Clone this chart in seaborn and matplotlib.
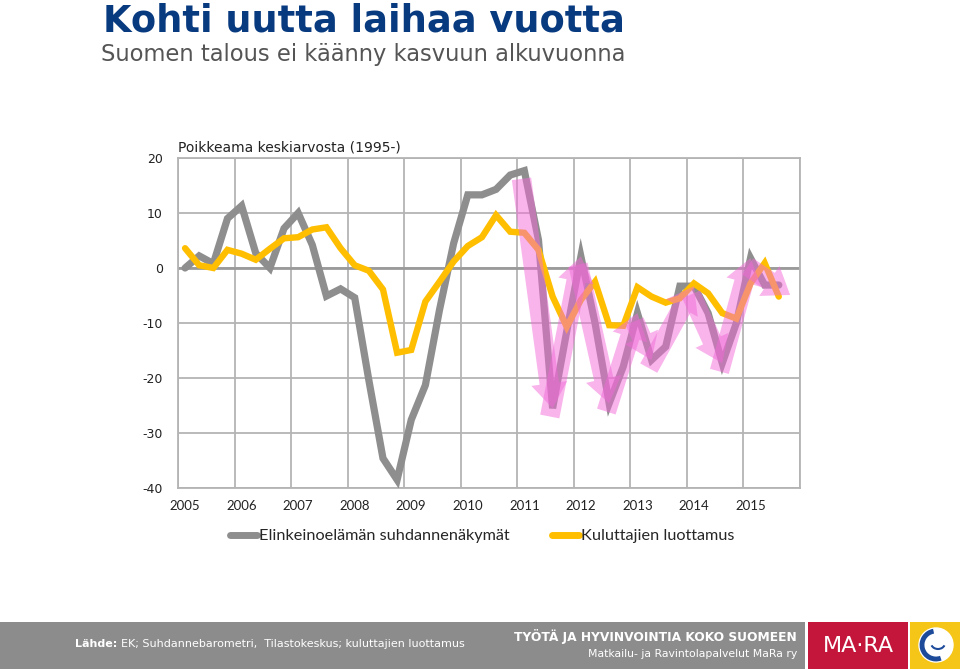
import numpy as np
import pandas as pd
import seaborn as sns
import matplotlib.pyplot as plt
from matplotlib.lines import Line2D
from matplotlib.patches import Rectangle, Circle, Arc

# ---------------------------------------------------- data ----------------------------------------------------
years = list(range(2005, 2016))
quarters = [f"{y}Q{q}" for y in years for q in range(1, 5)][:43]   # 2005Q1 .. 2015Q3

# Elinkeinoelämän suhdannenäkymät (grey)
business = [0.0, 2.2, 0.8, 9.0,
            11.3, 2.7, 0.0, 7.2,
            10.0, 4.2, -5.1, -3.8,
            -5.4, -20.4, -34.6, -38.5,
            -27.6, -21.3, -7.6, 4.5,
            13.3, 13.3, 14.3, 16.9,
            17.7, 5.1, -25.5, -11.5,
            2.1, -10.0, -24.6, -17.9,
            -8.2, -16.7, -14.3, -3.3,
            -3.3, -8.2, -17.3, -10.0,
            1.8, -3.1, -3.1]

# Kuluttajien luottamus (yellow)
consumer = [3.6, 0.5, 0.0, 3.3,
            2.6, 1.5, 3.5, 5.4,
            5.6, 7.0, 7.4, 3.6,
            0.5, -0.5, -3.9, -15.4,
            -14.9, -6.1, -2.5, 1.2,
            4.0, 5.6, 9.6, 6.6,
            6.4, 3.3, -5.2, -10.7,
            -5.8, -2.5, -10.4, -10.5,
            -3.5, -5.2, -6.3, -5.5,
            -2.8, -4.6, -8.2, -9.2,
            -2.8, 0.9, -5.2]

series_names = ["Elinkeinoelämän suhdannenäkymät", "Kuluttajien luottamus"]
colors = ["#8e8e8e", "#ffbf00"]
arrow_from = "2011Q1"   # pink highlight arrows follow the grey line from here on

# quarter -> decimal year (mid-quarter)
x_pos = [int(q[:4]) + (int(q[-1]) - 0.5) / 4 for q in quarters]
df = pd.DataFrame({"x": x_pos * 2,
                   "value": business + consumer,
                   "series": [series_names[0]] * len(business) + [series_names[1]] * len(consumer)})

# ---------------------------------------------------- plot ----------------------------------------------------
sns.set_style("white")
plt.rcParams['font.family'] = ['DejaVu Sans']

fig = plt.figure(figsize=(9.6, 6.69), dpi=100)
ax = fig.add_axes([178 / 960, 1 - 488 / 669, 622 / 960, 330 / 669])

for name, col, lw in zip(series_names, colors, [5.2, 4.6]):
    sns.lineplot(data=df[df.series == name], x="x", y="value", color=col, linewidth=lw,
                 ax=ax, legend=False, solid_joinstyle="miter", zorder=3)

# pink arrows along the grey line, between its turning points
start = quarters.index(arrow_from)
xs = np.array(x_pos[start:])
ys = np.array(business[start:])
d = np.sign(np.diff(ys))
for i in range(1, len(d)):
    if d[i] == 0:
        d[i] = d[i - 1]
turns = [0] + [i for i in range(1, len(d)) if d[i] != d[i - 1]] + [len(ys) - 1]
for a, b in zip(turns[:-1], turns[1:]):
    x0, y0, x1, y1 = xs[a], ys[a], xs[b], ys[b]
    if b == len(ys) - 1:
        x1, y1 = x1 + 0.2, y1 - 1.8
    ax.annotate("", xy=(x1, y1), xytext=(x0 - 0.05, y0 - 1.5),
                arrowprops=dict(arrowstyle="simple,head_width=2.6,head_length=1.8,tail_width=1.4",
                                mutation_scale=10, color="#f26ad8", alpha=0.5, lw=0, shrinkA=0, shrinkB=0),
                zorder=5)

ax.set_xlim(2005, 2016)
ax.set_ylim(-40, 20)
# gridlines on the years, labels a bit to the right of them
ax.set_xticks(years + [2016])
ax.set_xticklabels([])
ax.set_xticks([y + 0.125 for y in years], minor=True)
ax.set_xticklabels([str(y) for y in years], minor=True, fontsize=9.5, family="Lato")
ax.set_yticks(range(-40, 21, 10))
ax.set_yticklabels([str(v) for v in range(-40, 21, 10)], fontsize=9)
ax.tick_params(axis="both", which="both", length=0, pad=9, colors="#222222")
ax.tick_params(axis="y", pad=11)
ax.grid(True, which="major", color="#b4b4b4", linewidth=1.3)
ax.axhline(0, color="#9a9a9a", linewidth=2.0, zorder=2)
for s in ax.spines.values():
    s.set_color("#b4b4b4")
    s.set_linewidth(1.3)
ax.set_xlabel("")
ax.set_ylabel("")
ax.text(0, 1.012, "Poikkeama keskiarvosta (1995-)", transform=ax.transAxes, fontsize=10,
        color="#222222", va="bottom", ha="left")

# titles
fig.text(103 / 960, 1 - 21 / 669, "Kohti uutta laihaa vuotta", fontsize=26.5, fontweight="bold",
         color="#083a80", va="center", ha="left")
fig.text(101 / 960, 1 - 54 / 669, "Suomen talous ei käänny kasvuun alkuvuonna", fontsize=16.3,
         color="#555555", va="center", ha="left")

# legend
handles = [Line2D([], [], color=c, linewidth=5) for c in colors]
fig.legend(handles, series_names, loc="center", bbox_to_anchor=(482 / 960, 1 - 536 / 669), ncol=2,
           frameon=False, prop={"family": "Lato", "size": 11.7}, handlelength=1.7, handletextpad=0.1,
           columnspacing=2.6)

# footer band
fig.patches.append(Rectangle((0, 0), 805 / 960, 47 / 669, transform=fig.transFigure,
                             facecolor="#8c8c8c", edgecolor="none", zorder=0))
fig.patches.append(Rectangle((808 / 960, 0), 100 / 960, 47 / 669, transform=fig.transFigure,
                             facecolor="#c4163b", edgecolor="none", zorder=0))
src = fig.text(75 / 960, 1 - 644 / 669, "Lähde:", fontsize=8, fontweight="bold", color="white",
               va="center")
fig.add_artist(plt.Annotation("EK; Suhdannebarometri,  Tilastokeskus; kuluttajien luottamus",
                              xy=(1, 0.5), xycoords=src, xytext=(3, 0), textcoords="offset points",
                              fontsize=8, color="white", va="center", ha="left"))
fig.text(797 / 960, 1 - 637 / 669, "TYÖTÄ JA HYVINVOINTIA KOKO SUOMEEN", fontsize=8.8,
         fontweight="bold", color="white", va="center", ha="right")
fig.text(797 / 960, 1 - 654 / 669, "Matkailu- ja Ravintolapalvelut MaRa ry", fontsize=7.8,
         color="white", va="center", ha="right")
fig.text(858 / 960, 1 - 646 / 669, "MA·RA", fontsize=16, color="white", va="center", ha="center")

# logo
lax = fig.add_axes([910 / 960, 0, 50 / 960, 47 / 669])
lax.set_facecolor("#f5c518")
lax.set_xlim(0, 50)
lax.set_ylim(0, 47)
lax.set_aspect("equal")
lax.add_patch(Circle((26, 24), 17, color="white"))
lax.add_patch(Arc((26, 24), 28, 28, theta1=100, theta2=290, color="#1d4b9a", linewidth=3.5))
lax.add_patch(Arc((28, 26), 14, 12, theta1=200, theta2=340, color="#1d4b9a", linewidth=1.5))
lax.set_xticks([])
lax.set_yticks([])
for s in lax.spines.values():
    s.set_visible(False)

fig.savefig("out.png", dpi=100)
